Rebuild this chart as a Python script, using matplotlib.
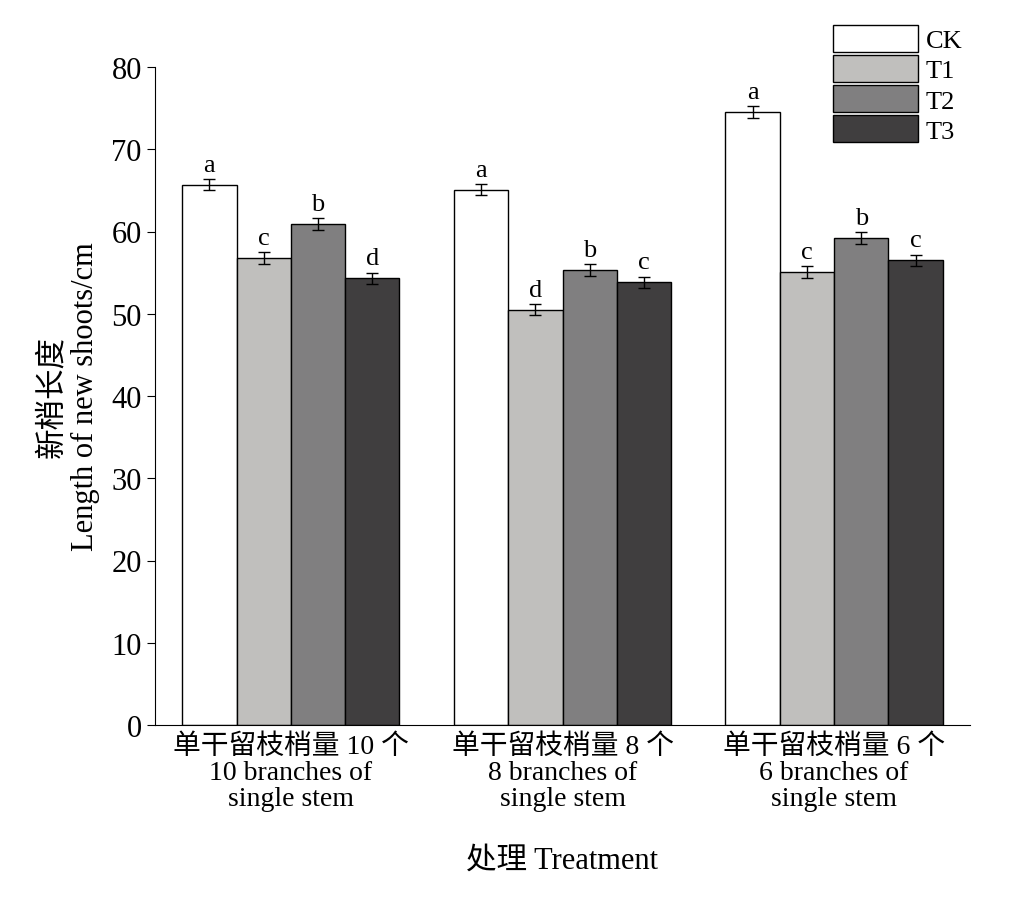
import numpy as np
import matplotlib.pyplot as plt

plt.rcParams['font.family'] = ['Liberation Serif', 'Noto Sans CJK SC']

groups = ["单干留枝梢量 10 个\n10 branches of\nsingle stem",
          "单干留枝梢量 8 个\n8 branches of\nsingle stem",
          "单干留枝梢量 6 个\n6 branches of\nsingle stem"]
data = {
    "CK": ([65.7, 65.1, 74.5], ["a", "a", "a"], "white"),
    "T1": ([56.8, 50.5, 55.1], ["c", "d", "c"], "#c0bfbd"),
    "T2": ([60.9, 55.3, 59.2], ["b", "b", "b"], "#807f80"),
    "T3": ([54.3, 53.8, 56.5], ["d", "c", "c"], "#403e3f"),
}
err = 0.7
BAR_WIDTH = 0.2
x = np.arange(3)

fig = plt.figure(figsize=(10.26, 9.04), dpi=100)
ax = fig.add_axes([155/1026, 1-726/904, 815/1026, 658/904])

for i, (name, (vals, letters, color)) in enumerate(data.items()):
    pos = x + (i - 1.5) * BAR_WIDTH
    ax.bar(pos, vals, BAR_WIDTH, color=color, edgecolor="black", linewidth=1,
           yerr=err, capsize=4, error_kw=dict(elinewidth=1, ecolor="black"), label=name)
    for p, v, l in zip(pos, vals, letters):
        ax.text(p, v + err + 0.4, l, ha="center", va="bottom", fontsize=19)

ax.set_xlim(-0.5, 2.5)
ax.set_ylim(0, 80)
ax.set_yticks(range(0, 81, 10))
ax.set_xticks(x)
ax.set_xticklabels(groups, fontsize=20, linespacing=1.05)
ax.tick_params(axis="y", labelsize=22, direction="out", length=6)
ax.tick_params(axis="x", length=0, pad=6)
ax.spines["top"].set_visible(False)
ax.spines["right"].set_visible(False)
ax.set_ylabel("新梢长度\nLength of new shoots/cm", fontsize=22, labelpad=8)
ax.set_xlabel("处理 Treatment", fontsize=22, labelpad=25)

ax.legend(loc="upper right", bbox_to_anchor=(1.02, 1.1), frameon=False, fontsize=19,
          handlelength=3.2, handleheight=1.2, labelspacing=0.1, handletextpad=0.3)

fig.savefig("out.png", dpi=100)
